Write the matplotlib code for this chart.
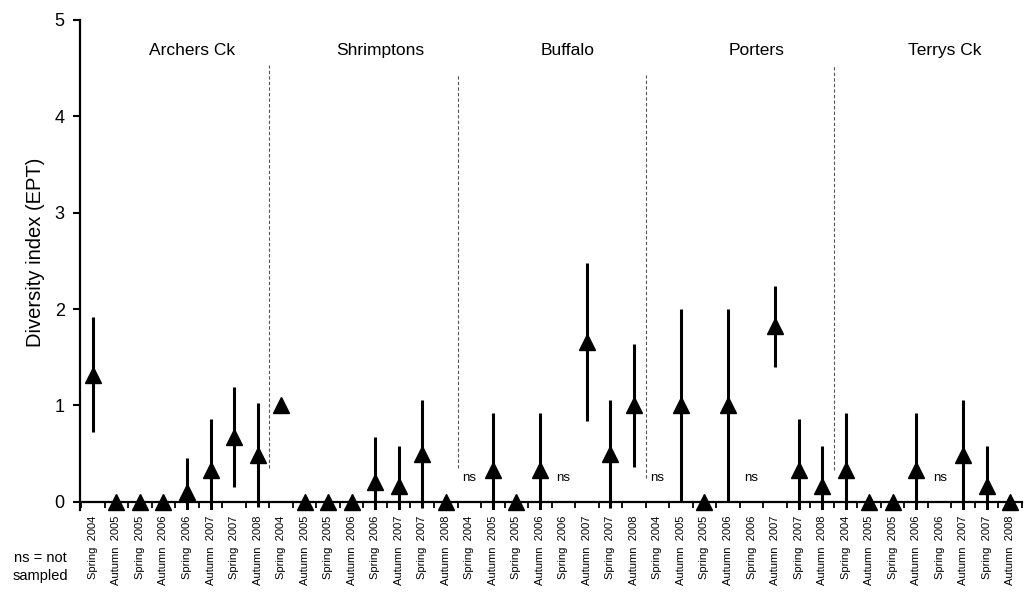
import matplotlib
matplotlib.use("Agg")
import matplotlib.pyplot as plt
import numpy as np

plt.rcParams['font.family'] = ['Liberation Sans', 'DejaVu Sans']

sites = ["Archers Ck", "Shrimptons", "Buffalo", "Porters", "Terrys Ck"]
seasons = ["Spring  2004", "Autumn  2005", "Spring  2005", "Autumn  2006",
           "Spring  2006", "Autumn  2007", "Spring  2007", "Autumn  2008"]

# mean EPT diversity index per site (None = not sampled)
archers_mean = [1.32, 0, 0, 0, 0.10, 0.33, 0.67, 0.49]
archers_err = [0.60, 0, 0, 0, 0.35, 0.53, 0.52, 0.54]
shrimptons_mean = [1.0, 0, 0, 0, 0.21, 0.16, 0.50, 0]
shrimptons_err = [0, 0, 0, 0, 0.46, 0.42, 0.56, 0]
buffalo_mean = [None, 0.33, 0, 0.33, None, 1.66, 0.50, 1.0]
buffalo_err = [0, 0.59, 0, 0.59, 0, 0.82, 0.56, 0.64]
porters_mean = [None, 1.0, 0, 1.0, None, 1.82, 0.33, 0.16]
porters_err = [0, 1.0, 0, 1.0, 0, 0.42, 0.53, 0.42]
terrys_mean = [0.33, 0, 0, 0.33, None, 0.49, 0.16, 0]
terrys_err = [0.59, 0, 0, 0.59, 0, 0.57, 0.42, 0]

means = archers_mean + shrimptons_mean + buffalo_mean + porters_mean + terrys_mean
errs = archers_err + shrimptons_err + buffalo_err + porters_err + terrys_err
labels = seasons * len(sites)
n = len(labels)
x = np.arange(n)

fig = plt.figure(figsize=(10.24, 5.92), dpi=100)
ax = fig.add_axes([80/1024, 1-510/592, 942/1024, 490/592])
ymin = -0.085
ax.set_xlim(-0.55, n - 0.55)
ax.set_ylim(ymin, 5)

for xi, m, e in zip(x, means, errs):
    if m is None:
        ax.text(xi, 0.25, "ns", ha="center", va="center", fontsize=9.5)
        continue
    if e > 0:
        lo = max(m - e, ymin)
        ax.plot([xi, xi], [lo, m + e], color="black", lw=2.2, solid_capstyle="butt", zorder=3)
    ax.plot(xi, m, marker="^", ms=11, color="black", zorder=4, clip_on=False)

# site dividers
div_tops = [4.53, 4.43, 4.43, 4.53]
div_bottoms = [0.35, 0.35, 0.25, 0.33]
for k in range(1, len(sites)):
    xd = k * len(seasons) - 0.5
    ax.plot([xd, xd], [div_bottoms[k-1], div_tops[k-1]], color="#555555",
            lw=0.8, ls=(0, (3, 2)), zorder=1)

for k, s in enumerate(sites):
    ax.text(k * len(seasons) + 4.2, 4.68, s, ha="center", va="center", fontsize=12.5)

ax.spines["top"].set_visible(False)
ax.spines["right"].set_visible(False)
ax.spines["bottom"].set_position(("data", 0))
ax.spines["bottom"].set_linewidth(1.6)
ax.spines["left"].set_linewidth(1.6)

ax.set_yticks([0, 1, 2, 3, 4, 5])
ax.tick_params(axis="y", labelsize=13, length=5, width=1.5, direction="out", pad=6)
ax.set_xticks(x)
ax.set_xticklabels(labels, rotation=90, fontsize=8)
ax.tick_params(axis="x", which="major", length=0, pad=10)
ax.set_xticks(np.arange(-0.5, n, 1), minor=True)
ax.tick_params(axis="x", which="minor", length=4, width=1.3, direction="out")
for lbl in ax.get_xticklabels():
    lbl.set_va("top")

ax.set_ylabel("Diversity index (EPT)", fontsize=14.5)
ax.yaxis.set_label_coords(-35/942, (510 - 252) / 490)

fig.text(40/1024, 1-567/592, "ns = not\nsampled", ha="center", va="center",
         fontsize=10.5, linespacing=1.35)

fig.savefig("out.png", dpi=100)
